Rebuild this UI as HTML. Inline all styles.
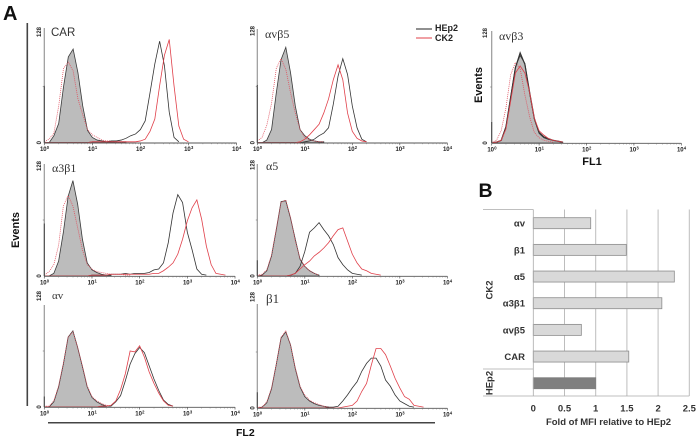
<!DOCTYPE html>
<html>
<head>
<meta charset="utf-8">
<style>
html,body{margin:0;padding:0;background:#fff;}
svg{display:block;font-family:"Liberation Sans",sans-serif;filter:blur(0.3px);}
</style>
</head>
<body>
<svg id="fig" width="699" height="441" viewBox="0 0 699 441" xmlns="http://www.w3.org/2000/svg">
<text x="3" y="20" font-size="20" font-weight="bold" fill="#111">A</text>
<text x="478.5" y="197" font-size="19.5" font-weight="bold" fill="#111">B</text>
<rect x="26.5" y="23" width="1.6" height="383" fill="#444"/>
<rect x="48" y="422" width="387" height="1.5" fill="#444"/>
<text transform="translate(19,230) rotate(-90)" text-anchor="middle" font-size="11" font-weight="bold" fill="#111">Events</text>
<text x="236" y="436" font-size="10.5" font-weight="bold" fill="#111">FL2</text>
<text transform="translate(482,85) rotate(-90)" text-anchor="middle" font-size="11" font-weight="bold" fill="#111">Events</text>
<text x="592" y="165" text-anchor="middle" font-size="11" font-weight="bold" fill="#111">FL1</text>
<g>
<line x1="416" x2="432" y1="29" y2="29" stroke="#222" stroke-width="1"/>
<text x="435" y="31" font-size="9" font-weight="bold" fill="#222">HEp2</text>
<line x1="416" x2="432" y1="38" y2="38" stroke="#e0404a" stroke-width="1"/>
<text x="435" y="41" font-size="9" font-weight="bold" fill="#222">CK2</text>
</g>
<g id="histograms"></g>
<g id="bars"></g>
</svg>
<script>
// Fluorescence axis channels (log10 intensity) shared by all series
const channelLogs = [0,.1,.2,.3,.4,.5,.6,.7,.8,.9,1,1.1,1.2,1.3,1.4,1.5,1.6,1.7,1.8,1.9,2,2.1,2.2,2.3,2.4,2.5,2.6,2.7,2.8,2.9,3,3.1,3.2,3.3,3.4,3.5,3.6,3.7,3.8,3.9,4];
const decadeExponents = [0,1,2,3,4];
const minorMultiples = [2,3,4,5,6,7,8,9];

// CAR
const carIso = [0,0,8,22,64,98,107,80,42,14,6,3,2,1,1,1,1,1];
const carDot = [1,4,11,42,85,92,82,50,32,15,9,6,3,2,2,1,1,1];
const carHep = [0,0,0,0,0,0,0,0,0,0,1,1,1,1,2,2,3,5,8,10,15,25,57,90,116,88,35,6,1];
const carCk  = [0,0,0,0,0,0,0,0,0,0,1,1,1,1,1,1,1,1,1,1,2,4,13,27,65,100,118,65,19,4,1];
// avb5
const b5Iso = [0,0,3,15,57,95,109,80,42,15,8,4,2,1,1];
const b5Dot = [2,6,20,45,85,96,84,57,34,15,6,3,2,1,1];
const b5Hep = [0,0,0,0,0,0,0,0,0,0,1,2,4,8,11,17,44,76,96,78,42,17,4,1];
const b5Ck  = [0,0,0,0,0,0,0,0,0,1,4,9,15,21,34,50,72,89,72,34,13,5,2,1];
// avb3
const b3Iso = [0,1,3,19,53,87,100,91,57,27,11,6,4,3,2,1];
const b3Dot = [1,3,14,40,78,92,85,55,30,12,6,3,2,1];
const b3Hep = [0,1,3,18,52,86,103,90,58,28,12,7,5,3,2,1];
const b3Ck  = [0,1,3,16,48,80,88,80,58,28,14,9,5,3,2,1];
// a3b1
const a3Iso = [0,0,3,17,50,91,109,82,42,15,7,4,2,1,1];
const a3Dot = [1,5,13,35,80,92,80,55,30,13,8,5,4,3,2,2,2,1,1];
const a3Hep = [0,0,0,0,0,0,0,0,0,0,1,1,1,1,2,2,2,3,2,3,3,3,4,7,8,15,38,72,93,84,50,30,8,2,1];
const a3Ck  = [0,0,0,0,0,0,0,0,0,0,1,1,1,1,2,2,2,2,2,2,2,2,2,3,3,6,10,15,25,42,63,78,87,65,34,13,3,2,1];
// a5
const a5Iso = [0,1,6,23,53,85,86,66,42,19,11,6,3,1];
const a5Dot = [1,2,7,24,54,84,87,67,40,20,11,6,3,1];
const a5Hep = [0,0,0,0,0,0,0,1,3,11,28,50,55,61,53,46,36,21,13,7,3,2,1];
const a5Ck  = [0,0,0,0,0,0,0,1,3,8,13,17,23,27,32,38,46,53,55,40,25,15,8,6,3,2,1];
// av
const avIso = [0,0,6,23,49,80,87,68,46,23,11,6,3,1];
const avDot = [1,1,7,24,50,80,86,68,47,24,12,7,4,2,1];
const avHep = [0,0,0,0,0,0,0,0,0,0,0,0,1,1,1,6,13,30,49,61,68,62,47,32,19,8,3,1];
const avCk  = [0,0,0,0,0,0,0,0,0,0,0,0,1,1,2,7,20,38,64,63,70,57,40,27,16,7,2,1];
// b1
const b1Iso = [0,1,6,22,50,80,87,72,45,24,13,8,5,3,2,1];
const b1Dot = [1,1,7,23,50,81,88,72,46,25,15,9,6,4,2,1];
const b1Hep = [0,0,0,0,0,0,0,0,0,0,0,0,0,0,0,1,1,2,8,15,23,30,42,51,57,57,48,32,25,15,8,5,2,1];
const b1Ck  = [0,0,0,0,0,0,0,0,0,0,0,0,0,0,0,0,0,0,1,2,3,8,19,28,49,68,68,61,48,34,23,13,10,3,2,1];
// Events in the first channel (spike on the y axis)
const firstChannelCounts = [65,66,24,60,18,12,18];
const panelNames = ["car","avb5","avb3","a3b1","a5","av","b1"];
const panelTitles = ["CAR","αvβ5","αvβ3","α3β1","α5","αv","β1"];
const isoSeries = [carIso,b5Iso,b3Iso,a3Iso,a5Iso,avIso,b1Iso];
const dotSeries = [carDot,b5Dot,b3Dot,a3Dot,a5Dot,avDot,b1Dot];
const hepSeries = [carHep,b5Hep,b3Hep,a3Hep,a5Hep,avHep,b1Hep];
const ckSeries  = [carCk,b5Ck,b3Ck,a3Ck,a5Ck,avCk,b1Ck];

// Bar chart data
const barCategories = ["αv","β1","α5","α3β1","αvβ5","CAR","HEp2"];
const barValues = [0.92,1.49,2.26,2.06,0.77,1.53,1];
const barTicks = [0,0.5,1,1.5,2,2.5];

// Layout (separate from data)
const layout = [
 {x0:44.3,x1:236.5,base:142.7,axisTop:28,lblY:32,lblX:39,tx:51,ty:36,serif:false,fs:11.5},
 {x0:257.3,x1:447.3,base:142.7,axisTop:29,lblY:31,lblX:252.5,tx:265,ty:38,serif:true,fs:12},
 {x0:491.7,x1:681.3,base:143,axisTop:31,lblY:33,lblX:485,tx:499,ty:40,serif:true,fs:12},
 {x0:44.3,x1:235,base:276,axisTop:164,lblY:166,lblX:39,tx:52,ty:172,serif:true,fs:12},
 {x0:257.3,x1:447.3,base:276,axisTop:164,lblY:165,lblX:252.5,tx:266,ty:170,serif:true,fs:12},
 {x0:44.3,x1:235,base:407,axisTop:305,lblY:296,lblX:39,tx:52,ty:299,serif:true,fs:11},
 {x0:257.3,x1:447.3,base:408,axisTop:304,lblY:297,lblX:252.5,tx:266,ty:303,serif:true,fs:13}
];
const COUNT_PX = 112/128;
const SVGNS = "http://www.w3.org/2000/svg";
function mk(tag,parent){const e=document.createElementNS(SVGNS,tag);parent.appendChild(e);return e;}
function set(e,o){for(const k in o)e.setAttribute(k,o[k]);return e;}

const root = document.getElementById("histograms");
panelNames.forEach((name,p)=>{
  const L = layout[p];
  const xScale = v => L.x0 + (L.x1-L.x0)*v/4;
  const yScale = c => L.base - c*COUNT_PX;
  const curve = vals => vals.map((c,i)=>(i?"L":"M")+xScale(channelLogs[i]).toFixed(2)+" "+yScale(c).toFixed(2)).join("");
  const g = mk("g",root);
  
  

  const iso = isoSeries[p];
  const fill = mk("path",g);
  set(fill,{d:curve(iso)+"L"+xScale(channelLogs[iso.length-1])+" "+L.base+"Z",fill:"#bcbcbc",stroke:"#3a3a3a","stroke-width":0.8});
  
  

  const dot = mk("path",g);
  set(dot,{d:curve(dotSeries[p]),fill:"none",stroke:"#e0505e","stroke-width":0.8,"stroke-dasharray":"1 1"});
  
  

  const hep = mk("path",g);
  set(hep,{d:curve(hepSeries[p]),fill:"none",stroke:"#333","stroke-width":p===2?1.2:0.8});
  
  

  const ck = mk("path",g);
  set(ck,{d:curve(ckSeries[p]),fill:"none",stroke:"#e0404a","stroke-width":0.8});
  
  

  const yAxis = mk("line",g);
  set(yAxis,{x1:L.x0,x2:L.x0,y1:L.axisTop,y2:L.base,stroke:"#999","stroke-width":1.2});
  
  

  const spike = mk("line",g);
  set(spike,{x1:L.x0,x2:L.x0,y1:L.base,y2:yScale(firstChannelCounts[p]),stroke:"#444","stroke-width":1});
  
  

  const xAxis = mk("line",g);
  set(xAxis,{x1:L.x0,x2:L.x1,y1:L.base+.3,y2:L.base+.3,stroke:"#555","stroke-width":0.9});
  
  

  const midTick = mk("line",g);
  set(midTick,{x1:L.x0-1.5,x2:L.x0,y1:yScale(64),y2:yScale(64),stroke:"#777","stroke-width":0.7});
  
  

  decadeExponents.forEach(ex=>{
    const tick = mk("line",g);
    set(tick,{x1:xScale(ex),x2:xScale(ex),y1:L.base,y2:L.base+2.5,stroke:"#555","stroke-width":0.7});
    
    

    if(ex<4){
      minorMultiples.forEach(m=>{
        const mt = mk("line",g);
        const mx = xScale(ex+Math.log10(m));
        set(mt,{x1:mx,x2:mx,y1:L.base,y2:L.base+1.5,stroke:"#777","stroke-width":0.5});
        
        
      });
    }

    const lab = mk("text",g);
    set(lab,{x:xScale(ex)-1,y:L.base+8.5,"font-size":6,"font-weight":"bold",fill:"#222","text-anchor":"middle"});
    
    
    lab.textContent = "10";
    const sup = mk("text",g);
    set(sup,{x:xScale(ex)+2.5,y:L.base+6.5,"font-size":4.2,"font-weight":"bold",fill:"#222"});
    
    
    sup.textContent = String(ex);
  });

  const topLab = mk("text",g);
  set(topLab,{transform:"translate("+(L.lblX+2)+","+L.lblY+") rotate(-90)","text-anchor":"middle","font-size":6,"font-weight":"bold",fill:"#222"});
  
  
  topLab.textContent = "128";

  const zeroLab = mk("text",g);
  set(zeroLab,{transform:"translate("+(L.lblX+2)+","+L.base+") rotate(-90)","text-anchor":"middle","font-size":6,"font-weight":"bold",fill:"#222"});
  
  
  zeroLab.textContent = "0";

  const title = mk("text",g);
  set(title,{x:L.tx,y:L.ty,"font-size":L.fs,fill:"#333","font-family":L.serif?'"Liberation Serif",serif':'"Liberation Sans",sans-serif'});
  
  
  title.textContent = panelTitles[p];
});

// Bar chart B
const bars = document.getElementById("bars");
const bx = v => 533.3 + v*62.4;
const by = i => 217.7 + i*26.67;
const plotTop = 209.5, plotBottom = 396;
barTicks.forEach(t=>{
  if(t>0){
    const gl = mk("line",bars);
    set(gl,{x1:bx(t),x2:bx(t),y1:plotTop,y2:plotBottom,stroke:"#bdbdbd","stroke-width":1});
    
    
  }
  const tl = mk("text",bars);
  set(tl,{x:bx(t),y:411.5,"text-anchor":"middle","font-size":9.5,"font-weight":"bold",fill:"#333"});
  
  
  tl.textContent = String(t);
});
barCategories.forEach((c,i)=>{
  const last = i===barCategories.length-1;
  const r = mk("rect",bars);
  set(r,{x:bx(0),y:by(i),width:bx(barValues[i])-bx(0),height:11,fill:last?"#7f7f7f":"#d9d9d9",stroke:last?"#7f7f7f":"#8c8c8c","stroke-width":0.8});
  
  
  if(!last){
    const l = mk("text",bars);
    set(l,{x:525,y:by(i)+9,"text-anchor":"end","font-size":9.5,"font-weight":"bold",fill:"#333"});
    
    
    l.textContent = c;
  }
});
[[483,533.3,plotTop],[483,533.3,369],[483,689.3,plotBottom]].forEach(a=>{
  const s = mk("line",bars);
  set(s,{x1:a[0],x2:a[1],y1:a[2],y2:a[2],stroke:"#aaa","stroke-width":0.8});
  
  
});
const baseAxis = mk("line",bars);
set(baseAxis,{x1:bx(0),x2:bx(0),y1:plotTop,y2:plotBottom,stroke:"#aaa","stroke-width":0.8});



const ck2Group = mk("text",bars);
set(ck2Group,{transform:"translate(492.5,290) rotate(-90)","text-anchor":"middle","font-size":9.5,"font-weight":"bold",fill:"#333"});


ck2Group.textContent = "CK2";

const hepGroup = mk("text",bars);
set(hepGroup,{transform:"translate(492.5,383) rotate(-90)","text-anchor":"middle","font-size":9.5,"font-weight":"bold",fill:"#333"});


hepGroup.textContent = "HEp2";

const xTitle = mk("text",bars);
set(xTitle,{x:608.5,y:425,"text-anchor":"middle","font-size":9.5,"font-weight":"bold",fill:"#333"});


xTitle.textContent = "Fold of MFI relative to HEp2";
</script>
</body>
</html>
